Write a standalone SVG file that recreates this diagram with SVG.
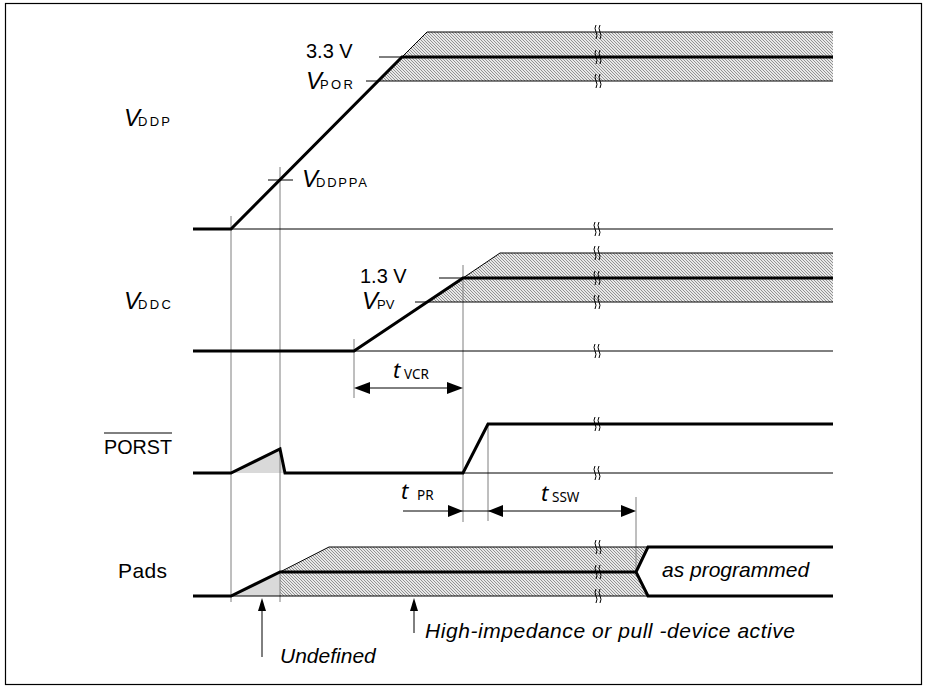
<svg xmlns="http://www.w3.org/2000/svg" width="927" height="688" viewBox="0 0 927 688">
<style>
.thin{stroke:#000;stroke-width:1;fill:none}
.thick{stroke:#000;stroke-width:3;fill:none}
.grid{stroke:#7f7f7f;stroke-width:1;fill:none}
.lbl{font-family:"Liberation Sans",Arial,sans-serif;fill:#000}
.it{font-style:italic}
.t{font-family:"Noto Sans","Open Sans",sans-serif;font-style:italic;font-size:22px;fill:#000}
.ts{font-family:"Noto Sans","Open Sans",sans-serif;font-size:13.5px;fill:#000}
.hatch{fill:url(#hp);stroke:none}
.ah{fill:#000;stroke:none}
</style>
<defs>
<pattern id="hp" patternUnits="userSpaceOnUse" width="3" height="3">
<rect width="3" height="3" fill="#e8e8e8"/>
<path d="M0,0 L3,3 M-1,2 L1,4 M2,-1 L4,1" stroke="#888" stroke-width="0.9"/>
</pattern>
<g id="brk"><path d="M-2,-7 q-2,3 0,7 q2,3 0,7 M2,-7 q-2,3 0,7 q2,3 0,7" fill="none" stroke="#000" stroke-width="1"/></g>
</defs>
<rect x="5.5" y="3.5" width="916" height="681" fill="#fff" stroke="#000" stroke-width="1.2"/>

<g id="hatching">
<polygon class="hatch" points="377,81 402,57 427,32 833,32 833,81"/>
<polygon class="hatch" points="428,302 463,278 500,253 833,253 833,302"/>
<polygon class="hatch" points="280,596 280,572 329,547 648,547 636,572 648,596"/>
<polygon fill="#d9d9d9" points="231,473 280,449 285,473"/>
<polygon fill="#d9d9d9" points="231,596 280,572 280,596"/>
</g>

<g id="gridlines">
<line class="grid" x1="231" y1="216" x2="231" y2="602"/>
<line class="grid" x1="280" y1="167" x2="280" y2="602"/>
<line class="grid" x1="354" y1="339" x2="354" y2="398"/>
<line class="grid" x1="463" y1="265" x2="463" y2="522"/>
<line class="grid" x1="488" y1="423" x2="488" y2="521"/>
<line class="grid" x1="636" y1="497" x2="636" y2="572"/>
</g>

<g id="vddp-wave">
<line class="thin" x1="427" y1="32" x2="833" y2="32"/>
<line class="thin" x1="379" y1="57" x2="402" y2="57"/>
<line class="thin" x1="402" y1="57" x2="427" y2="32"/>
<line class="thin" x1="366" y1="81" x2="833" y2="81"/>
<line class="thin" x1="231" y1="229" x2="833" y2="229"/>
<line class="thin" x1="268" y1="180" x2="293" y2="180"/>
<polyline class="thick" points="193,229 231,229 402,57 833,57"/>
</g>

<g id="vddc-wave">
<line class="thin" x1="500" y1="253" x2="833" y2="253"/>
<line class="thin" x1="463" y1="278" x2="500" y2="253"/>
<line class="thin" x1="439" y1="278" x2="463" y2="278"/>
<line class="thin" x1="415" y1="302" x2="833" y2="302"/>
<line class="thin" x1="354" y1="351" x2="833" y2="351"/>
<polyline class="thick" points="193,351 354,351 463,278 833,278"/>
</g>

<g id="porst-wave">
<line class="thin" x1="285" y1="473" x2="833" y2="473"/>
<polyline class="thick" points="193,473 231,473 280,449 285,473 463,473 488,424 833,424"/>
</g>

<g id="pads-wave">
<line class="thin" x1="280" y1="572" x2="329" y2="547"/>
<line class="thin" x1="329" y1="547" x2="648" y2="547"/>
<line class="thin" x1="231" y1="596" x2="648" y2="596"/>
<polyline class="thick" points="193,596 231,596 280,572 636,572"/>
<polyline class="thick" points="833,547 648,547 636,572 648,596 833,596"/>
</g>

<g id="breaks">
<use href="#brk" x="598" y="32"/>
<use href="#brk" x="598" y="57"/>
<use href="#brk" x="598" y="81"/>
<use href="#brk" x="597" y="229"/>
<use href="#brk" x="597" y="253"/>
<use href="#brk" x="597" y="278"/>
<use href="#brk" x="597" y="302"/>
<use href="#brk" x="597" y="351"/>
<use href="#brk" x="597" y="424"/>
<use href="#brk" x="597" y="473"/>
<use href="#brk" x="598" y="547"/>
<use href="#brk" x="598" y="572"/>
<use href="#brk" x="598" y="596"/>
</g>

<g id="connectors">
<line class="thin" x1="360" y1="388" x2="457" y2="388"/>
<polygon class="ah" points="354,388 370,382 370,394"/>
<polygon class="ah" points="463,388 447,382 447,394"/>
<line class="thin" x1="403" y1="511" x2="630" y2="511"/>
<polygon class="ah" points="463,511 448,505 448,517"/>
<polygon class="ah" points="488,511 503,505 503,517"/>
<polygon class="ah" points="636,511 621,505 621,517"/>
<line class="thin" x1="262" y1="657" x2="262" y2="608"/>
<polygon class="ah" points="262,598 258,611 266,611"/>
<line class="thin" x1="414" y1="633" x2="414" y2="608"/>
<polygon class="ah" points="414,598 410,611 418,611"/>
</g>

<g id="labels">
<text class="lbl" x="306" y="58" font-size="20">3.3 V</text>
<text class="lbl it" x="306" y="89" font-size="24">V</text>
<text class="lbl" x="320" y="89" font-size="13" textLength="33" lengthAdjust="spacing">POR</text>
<text class="lbl it" x="124" y="126" font-size="24">V</text>
<text class="lbl" x="138" y="126" font-size="13" textLength="32" lengthAdjust="spacing">DDP</text>
<text class="lbl it" x="302" y="187" font-size="24">V</text>
<text class="lbl" x="316" y="187" font-size="13" textLength="51" lengthAdjust="spacing">DDPPA</text>
<text class="lbl" x="360" y="283" font-size="20">1.3 V</text>
<text class="lbl it" x="362" y="309" font-size="24">V</text>
<text class="lbl" x="377" y="309" font-size="13">PV</text>
<text class="lbl it" x="124" y="309" font-size="24">V</text>
<text class="lbl" x="138" y="309" font-size="13" textLength="33" lengthAdjust="spacing">DDC</text>
<text class="lbl" x="104" y="454" font-size="21" textLength="68" lengthAdjust="spacingAndGlyphs">PORST</text>
<line class="thin" x1="104" y1="433" x2="172" y2="433"/>
<text class="lbl" x="118" y="578" font-size="21" textLength="49" lengthAdjust="spacing">Pads</text>
<text class="t" x="393" y="378">t</text>
<text class="ts" x="404" y="379">VCR</text>
<text class="t" x="401" y="499">t</text>
<text class="ts" x="417" y="500">PR</text>
<text class="t" x="541" y="501">t</text>
<text class="ts" x="552" y="502">SSW</text>
<text class="lbl it" x="662" y="577" font-size="21">as programmed</text>
<text class="lbl it" x="425" y="638" font-size="21" textLength="370" lengthAdjust="spacing">High-impedance or pull -device active</text>
<text class="lbl it" x="280" y="663" font-size="21">Undefined</text>
</g>
</svg>
